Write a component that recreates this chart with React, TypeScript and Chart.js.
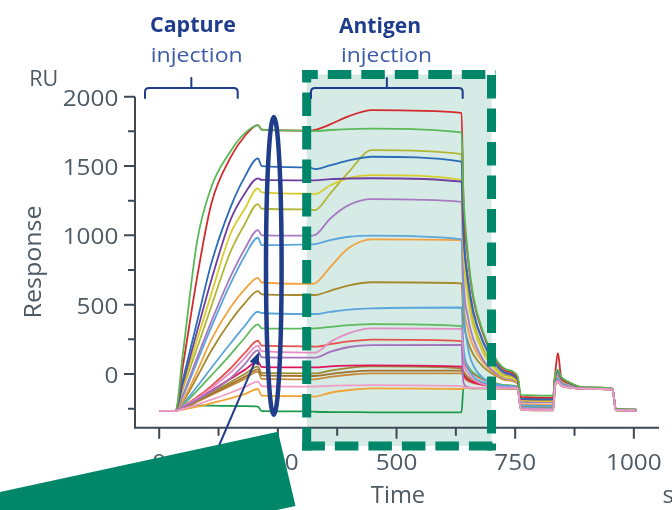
import { useEffect, useRef } from "react";
import { Chart, registerables } from "chart.js";
Chart.register(...registerables);

// ---- data (time in s, response in RU) ----
const times = [0, 34, 50, 80, 110, 150, 180, 208, 216, 317, 328, 360, 400, 448, 637, 641, 650, 662, 683, 708, 730, 755, 762, 830, 834, 840, 847, 862, 893, 955, 962, 1005];

const green1 = [-265, -265, 150, 960, 1350, 1605, 1735, 1795, 1762, 1755, 1752, 1760, 1766, 1770, 1742, 1300, 880, 560, 300, 115, 35, -15, -150, -155, -5, 30, -20, -55, -95, -105, -252, -255];
const red1 = [-265, -265, 60, 700, 1230, 1560, 1715, 1795, 1762, 1755, 1760, 1800, 1860, 1903, 1884, 1250, 850, 540, 285, 105, 25, -25, -165, -170, -10, 150, -25, -60, -97, -106, -253, -256];
const blue1 = [-265, -265, -40, 380, 800, 1200, 1420, 1555, 1500, 1490, 1478, 1505, 1540, 1567, 1531, 1050, 700, 450, 230, 80, 10, -35, -175, -180, -15, 20, -30, -62, -98, -107, -254, -257];
const purple1 = [-265, -265, -65, 310, 680, 1110, 1300, 1411, 1400, 1397, 1397, 1405, 1410, 1412, 1387, 1000, 680, 440, 225, 75, 5, -40, -180, -185, -18, 15, -32, -64, -99, -108, -255, -258];
const yellowA = [-265, -265, -85, 250, 580, 1010, 1190, 1339, 1310, 1300, 1298, 1360, 1415, 1435, 1399, 900, 560, 340, 150, 30, -25, -55, -190, -195, -25, 10, -38, -68, -100, -108, -255, -258];
const oliveB = [-265, -265, -105, 190, 490, 880, 1080, 1226, 1192, 1187, 1182, 1300, 1460, 1615, 1586, 1000, 620, 380, 180, 50, -10, -45, -185, -190, -20, 12, -35, -66, -99, -107, -254, -257];
const lightPurple = [-265, -265, -150, 120, 380, 700, 900, 1038, 1000, 998, 1002, 1120, 1220, 1262, 1242, 700, 420, 250, 100, 10, -35, -60, -200, -205, -35, -5, -45, -72, -101, -109, -256, -259];
const lightBlue1 = [-265, -265, -160, 90, 340, 650, 850, 983, 930, 935, 937, 965, 990, 998, 971, 500, 200, 60, -30, -70, -85, -95, -225, -230, -60, -30, -65, -85, -103, -110, -257, -260];
const orange1 = [-265, -265, -190, 20, 250, 480, 610, 694, 660, 650, 654, 770, 910, 971, 966, 550, 330, 200, 80, 0, -40, -65, -215, -220, -50, -20, -60, -82, -102, -110, -257, -260];
const oliveBrown1 = [-265, -265, -200, -20, 170, 380, 510, 598, 575, 570, 570, 600, 640, 662, 654, 400, 240, 140, 50, -10, -45, -68, -230, -235, -60, -30, -68, -86, -103, -111, -258, -261];
const lightBlue2 = [-265, -265, -215, -90, 45, 220, 345, 449, 440, 433, 433, 448, 465, 474, 480, 200, 50, -20, -60, -80, -90, -97, -240, -245, -70, -40, -75, -90, -104, -111, -258, -261];
const green2 = [-265, -265, -222, -120, -10, 140, 260, 358, 330, 327, 329, 340, 352, 360, 346, 150, 60, 10, -35, -65, -80, -90, -235, -240, -65, -35, -72, -88, -103, -111, -258, -261];
const red2 = [-265, -265, -232, -165, -85, 40, 150, 240, 205, 200, 197, 215, 235, 248, 238, 120, 40, 0, -40, -68, -82, -92, -238, -243, -68, -38, -73, -89, -104, -111, -258, -261];
const pink = [-265, -265, -235, -175, -100, 10, 115, 205, 165, 155, 154, 230, 295, 329, 325, 100, 10, -40, -75, -90, -97, -100, -248, -253, -75, -45, -78, -92, -105, -112, -259, -262];
const purple2 = [-265, -265, -238, -185, -125, -30, 70, 170, 120, 118, 118, 160, 195, 209, 210, -60, -95, -100, -102, -103, -104, -105, -255, -260, -80, -50, -82, -95, -106, -113, -260, -263];
const crimson = [-265, -265, -240, -180, -120, -35, 30, 89, 50, 48, 48, 55, 60, 62, 53, 0, -40, -60, -78, -88, -94, -98, -250, -255, -78, -50, -80, -94, -105, -112, -259, -262];
const olive = [-265, -265, -243, -190, -135, -60, 0, 53, 8, 5, 5, 25, 45, 55, 41, 20, -20, -45, -68, -82, -90, -95, -248, -253, -76, -48, -79, -93, -105, -112, -259, -262];
const brown2 = [-265, -265, -245, -195, -145, -75, -20, 34, -10, -14, -14, 0, 15, 24, 24, 0, -35, -55, -75, -86, -92, -97, -250, -255, -78, -50, -80, -94, -105, -112, -259, -262];
const brown3 = [-265, -265, -247, -200, -150, -85, -35, 17, -35, -38, -38, -20, -5, 5, 5, -20, -50, -65, -80, -90, -95, -99, -252, -257, -80, -52, -81, -95, -106, -112, -260, -263];
const pinkLight = [-265, -265, -252, -220, -185, -135, -95, -55, -88, -91, -90, -85, -82, -80, -87, -95, -98, -100, -101, -102, -103, -104, -256, -261, -82, -55, -83, -96, -106, -113, -260, -263];
const orange2 = [-265, -265, -256, -235, -210, -175, -145, -108, -155, -160, -163, -135, -115, -103, -108, -100, -102, -103, -104, -105, -106, -106, -258, -262, -84, -58, -85, -97, -107, -113, -261, -264];
const darkGreen = [-265, -265, -225, -226, -228, -230, -232, -235, -268, -270, -272, -274, -275, -276, -276, -100, -102, -103, -104, -105, -106, -107, -258, -262, -84, -58, -85, -97, -107, -113, -261, -264];

const SERIES = [
  { label: "pinkLight", color: "#f09cc6", values: pinkLight },
  { label: "purple2", color: "#a472bd", values: purple2 },
  { label: "pink", color: "#e58cc4", values: pink },
  { label: "green1", color: "#58b957", values: green1 },
  { label: "red1", color: "#d42a2e", values: red1 },
  { label: "blue1", color: "#2b6cb8", values: blue1 },
  { label: "purple1", color: "#6e3ea0", values: purple1 },
  { label: "yellowA", color: "#d7cc2c", values: yellowA },
  { label: "oliveB", color: "#b3b534", values: oliveB },
  { label: "lightPurple", color: "#a67bc2", values: lightPurple },
  { label: "lightBlue1", color: "#5aa6dc", values: lightBlue1 },
  { label: "orange1", color: "#f3a23e", values: orange1 },
  { label: "oliveBrown1", color: "#a58a2c", values: oliveBrown1 },
  { label: "lightBlue2", color: "#5aa6dc", values: lightBlue2 },
  { label: "green2", color: "#5cba5c", values: green2 },
  { label: "red2", color: "#e8524c", values: red2 },
  { label: "crimson", color: "#e0135e", values: crimson },
  { label: "olive", color: "#9c8a32", values: olive },
  { label: "brown2", color: "#a3722c", values: brown2 },
  { label: "brown3", color: "#c88b3c", values: brown3 },
  { label: "orange2", color: "#f1a333", values: orange2 },
  { label: "darkGreen", color: "#1c9b4b", values: darkGreen },
];

const yTicks = [-250, 0, 250, 500, 750, 1000, 1250, 1500, 1750, 2000];
const yLabels = [0, 500, 1000, 1500, 2000];
const xTicks = [0, 125, 250, 375, 500, 625, 750, 875, 1000];
const xLabels = [0, 250, 500, 750, 1000];

const NAVY = "#1f3d8a";
const NAVY_LIGHT = "#3d5ba8";
const TEAL = "#00876a";
const AXIS = "#3e4954";
const LABEL = "#4d5963";
const FONT = '"Open Sans", "DejaVu Sans", sans-serif';

function stretchText(ctx: CanvasRenderingContext2D, text: string, x: number, y: number, font: string, color: string, width: number, align: "left" | "center" | "right") {
  ctx.save();
  ctx.font = font;
  ctx.fillStyle = color;
  ctx.textAlign = "left";
  ctx.textBaseline = "alphabetic";
  const w = ctx.measureText(text).width;
  const s = width / w;
  const left = align === "center" ? x - width / 2 : align === "right" ? x - width : x;
  ctx.translate(left, y);
  ctx.scale(s, 1);
  ctx.fillText(text, 0, 0);
  ctx.restore();
}

function bracket(ctx: CanvasRenderingContext2D, x1: number, x2: number) {
  const yTop = 88, yEnd = 98, yMid = 78, r = 4;
  const xm = (x1 + x2) / 2;
  ctx.save();
  ctx.strokeStyle = NAVY;
  ctx.lineWidth = 2;
  ctx.lineCap = "round";
  ctx.beginPath();
  ctx.moveTo(x1, yEnd);
  ctx.lineTo(x1, yTop + r);
  ctx.quadraticCurveTo(x1, yTop, x1 + r, yTop);
  ctx.lineTo(x2 - r, yTop);
  ctx.quadraticCurveTo(x2, yTop, x2, yTop + r);
  ctx.lineTo(x2, yEnd);
  ctx.moveTo(xm, yTop);
  ctx.lineTo(xm, yMid);
  ctx.stroke();
  ctx.restore();
}

function dashLine(ctx: CanvasRenderingContext2D, x1: number, y1: number, x2: number, y2: number, offset: number) {
  ctx.save();
  ctx.strokeStyle = TEAL;
  ctx.lineWidth = 9;
  ctx.lineCap = "butt";
  ctx.setLineDash([23.5, 10]);
  ctx.lineDashOffset = offset;
  ctx.beginPath();
  ctx.moveTo(x1, y1);
  ctx.lineTo(x2, y2);
  ctx.stroke();
  ctx.restore();
}

const decor = {
  id: "decor",
  beforeDraw(chart: any) {
    const ctx = chart.ctx as CanvasRenderingContext2D;
    ctx.save();
    ctx.fillStyle = "#d6ebe6";
    ctx.fillRect(306.7, 74.5, 491.5 - 306.7, 446 - 74.5);
    ctx.restore();
  },
  beforeDatasetsDraw(chart: any) {
    const ctx = chart.ctx as CanvasRenderingContext2D;
    const a = chart.chartArea;
    const xs = chart.scales.x;
    const ys = chart.scales.y;
    ctx.save();
    ctx.strokeStyle = AXIS;
    ctx.lineWidth = 2;
    ctx.beginPath();
    ctx.moveTo(a.left, ys.getPixelForValue(2000));
    ctx.lineTo(a.left, a.bottom);
    ctx.lineTo(a.right, a.bottom);
    ctx.stroke();
    ctx.beginPath();
    for (const v of yTicks) {
      const p = ys.getPixelForValue(v);
      const len = v % 500 === 0 ? 11 : 7;
      ctx.moveTo(a.left - len, p);
      ctx.lineTo(a.left, p);
    }
    for (const v of xTicks) {
      const p = xs.getPixelForValue(v);
      const len = v % 250 === 0 ? 11 : 8;
      ctx.moveTo(p, a.bottom);
      ctx.lineTo(p, a.bottom + len);
    }
    ctx.stroke();
    ctx.restore();
    const tf = `21px ${FONT}`;
    for (const v of yLabels) {
      const s = String(v);
      stretchText(ctx, s, a.left - 16.7, ys.getPixelForValue(v) + 9, tf, LABEL, 13.9 * s.length, "right");
    }
    for (const v of xLabels) {
      const s = String(v);
      stretchText(ctx, s, xs.getPixelForValue(v), 470, tf, LABEL, 13.9 * s.length, "center");
    }
    // axis titles
    stretchText(ctx, "RU", 29.3, 86, `22px ${FONT}`, LABEL, 29, "left");
    stretchText(ctx, "Time", 398, 503, `24px ${FONT}`, LABEL, 54.3, "center");
    ctx.save();
    ctx.font = `24px ${FONT}`;
    ctx.fillStyle = LABEL;
    ctx.fillText("s", 662.5, 503);
    ctx.restore();
    ctx.save();
    ctx.translate(41, 262);
    ctx.rotate(-Math.PI / 2);
    stretchText(ctx, "Response", 0, 0, `24px ${FONT}`, LABEL, 113, "center");
    ctx.restore();
  },
  afterDatasetsDraw(chart: any) {
    const ctx = chart.ctx as CanvasRenderingContext2D;
    // dashed antigen box
    dashLine(ctx, 302.2, 74.5, 495.8, 74.5, 7.9);
    dashLine(ctx, 491.5, 70, 491.5, 450.5, 28.4);
    dashLine(ctx, 495.8, 446, 302.2, 446, 30.1);
    dashLine(ctx, 306.7, 70, 306.7, 450.5, 10.9);
    // brackets & headings
    bracket(ctx, 145, 237.7);
    bracket(ctx, 311, 462.7);
    stretchText(ctx, "Capture", 193, 31.5, `bold 22px ${FONT}`, NAVY, 86, "center");
    stretchText(ctx, "injection", 196.7, 62, `20px ${FONT}`, NAVY_LIGHT, 92, "center");
    stretchText(ctx, "Antigen", 380, 32.5, `bold 22px ${FONT}`, NAVY, 82, "center");
    stretchText(ctx, "injection", 386.5, 62, `20px ${FONT}`, NAVY_LIGHT, 91, "center");
    // ellipse
    ctx.save();
    ctx.strokeStyle = NAVY;
    ctx.lineWidth = 4.5;
    ctx.beginPath();
    ctx.ellipse(273.8, 266, 7.8, 149, 0, 0, Math.PI * 2);
    ctx.stroke();
    // arrow
    const tx = 259.3, ty = 351.7, sx = 212, sy = 462;
    const ang = Math.atan2(ty - sy, tx - sx);
    ctx.lineWidth = 2;
    ctx.beginPath();
    ctx.moveTo(sx, sy);
    ctx.lineTo(tx - 8 * Math.cos(ang), ty - 8 * Math.sin(ang));
    ctx.stroke();
    ctx.fillStyle = NAVY;
    ctx.beginPath();
    ctx.moveTo(tx, ty);
    ctx.lineTo(tx - 13 * Math.cos(ang) + 5 * Math.sin(ang), ty - 13 * Math.sin(ang) - 5 * Math.cos(ang));
    ctx.lineTo(tx - 13 * Math.cos(ang) - 5 * Math.sin(ang), ty - 13 * Math.sin(ang) + 5 * Math.cos(ang));
    ctx.closePath();
    ctx.fill();
    // green slab
    ctx.fillStyle = TEAL;
    ctx.beginPath();
    ctx.moveTo(0, 492);
    ctx.lineTo(278, 431.7);
    ctx.lineTo(295.5, 506);
    ctx.lineTo(0, 570);
    ctx.closePath();
    ctx.fill();
    ctx.restore();
  },
};

export default function App() {
  const ref = useRef<HTMLCanvasElement>(null);
  useEffect(() => {
    const chart = new Chart(ref.current as HTMLCanvasElement, {
      type: "line",
      data: {
        datasets: SERIES.map((s) => ({
          label: s.label,
          data: times.map((t, i) => ({ x: t, y: s.values[i] })),
          borderColor: s.color,
          backgroundColor: s.color,
          borderWidth: 1.8,
          pointRadius: 0,
          fill: false,
          cubicInterpolationMode: "monotone" as const,
        })),
      },
      options: {
        responsive: false,
        animation: false,
        devicePixelRatio: 1,
        layout: { padding: { left: 135, right: 13, top: 96.7, bottom: 82.3 } },
        scales: {
          x: { type: "linear", min: -51, max: 1053, display: false },
          y: { type: "linear", min: -387, max: 2000, display: false },
        },
        plugins: { legend: { display: false }, tooltip: { enabled: false } },
      },
      plugins: [decor],
    });
    return () => chart.destroy();
  }, []);
  return (
    <div style={{ position: "absolute", left: 0, top: 0, width: 672, height: 510, background: "#fff" }}>
      <canvas ref={ref} width={672} height={510} style={{ display: "block" }} />
    </div>
  );
}
